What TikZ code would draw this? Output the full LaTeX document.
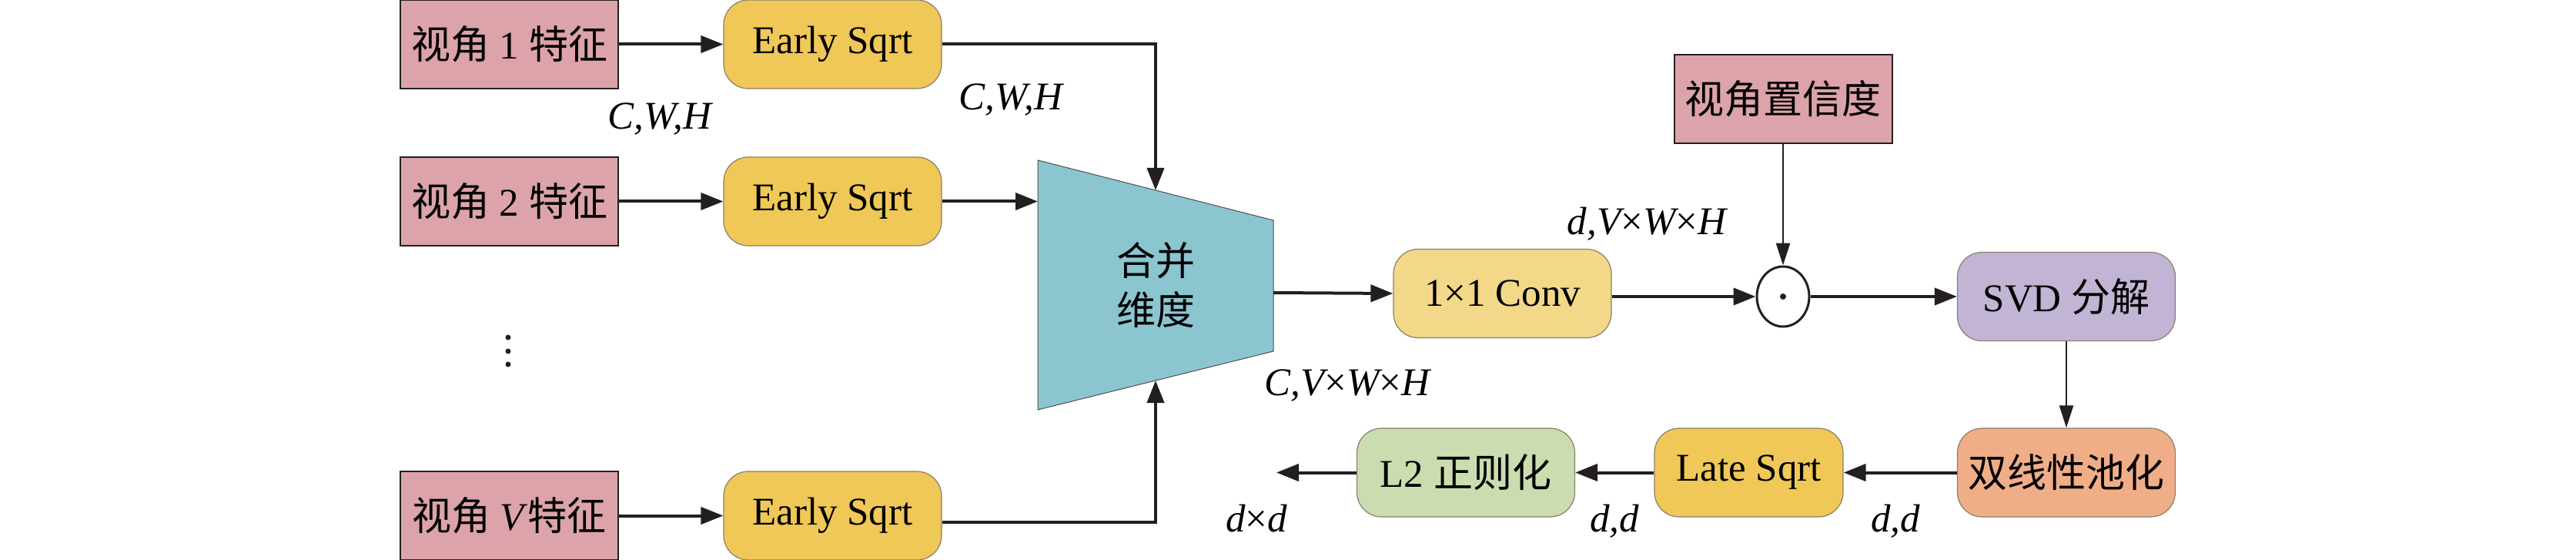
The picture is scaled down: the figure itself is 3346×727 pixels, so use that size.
\documentclass[tikz,border=0pt]{standalone}
\usepackage{fontspec}
\setmainfont{Liberation Serif}
\newfontfamily\cjk{Noto Sans CJK SC}
\usetikzlibrary{arrows.meta,shapes.geometric}
\definecolor{pinkc}{HTML}{DCA4AA}
\definecolor{yelc}{HTML}{F0C858}
\definecolor{convc}{HTML}{F2D888}
\definecolor{tealc}{HTML}{8BC6D0}
\definecolor{purc}{HTML}{C2B4D4}
\definecolor{orac}{HTML}{F0AE88}
\definecolor{grec}{HTML}{CBDDB0}
\definecolor{edgec}{HTML}{8A7E6A}
\definecolor{linec}{HTML}{231F20}
\begin{document}
\begin{tikzpicture}[x=1pt,y=-1pt,font=\fontsize{51}{64}\selectfont,
  feat/.style={draw=linec,line width=2pt,fill=pinkc,minimum width=283pt,minimum height=115pt,inner sep=0pt},
  proc/.style={draw=edgec,line width=1.2pt,rounded corners=32pt,minimum width=283pt,minimum height=115pt,inner sep=0pt},
  arr/.style={draw=linec,line width=4pt,-{Triangle[length=29pt,width=22pt]}},
  thinarr/.style={draw=linec,line width=2.5pt,-{Triangle[length=29pt,width=18pt]}},
  lab/.style={anchor=base,inner sep=0pt,font=\fontsize{51}{64}\selectfont\itshape}]
\useasboundingbox (0,0) rectangle (3346,727);
% left column
\node[feat] (f1) at (661.5,57.5) {{\cjk 视角} 1 {\cjk 特征}};
\node[feat] (f2) at (661.5,261.5) {{\cjk 视角} 2 {\cjk 特征}};
\node[feat] (fV) at (661.5,669.5) {{\cjk 视角} \textit{V}{\cjk 特征}};
\node[proc,fill=yelc] (e1) at (1081.5,57.5) {Early Sqrt};
\node[proc,fill=yelc] (e2) at (1081.5,261.5) {Early Sqrt};
\node[proc,fill=yelc] (eV) at (1081.5,669.5) {Early Sqrt};
\fill[linec] (660,438) circle (3.5) (660,456) circle (3.5) (660,473) circle (3.5);
% merge trapezoid
\draw[draw=linec!80,line width=1pt,fill=tealc] (1348,208) -- (1654,286) -- (1654,456) -- (1348,532) -- cycle;
\node[align=center,inner sep=0pt] (merge) at (1501,370) {\cjk 合并\\\cjk 维度};
\coordinate (mt) at (1501,247);
\coordinate (mb) at (1501,494);
\coordinate (ml) at (1348,261.5);
\coordinate (mr) at (1654,380);
% right part
\node[proc,fill=convc] (conv) at (1951.5,381) {1×1 Conv};
\node[ellipse,draw=linec,line width=3pt,minimum width=68pt,minimum height=78pt,inner sep=0pt] (odot) at (2316,385) {};
\fill[linec] (odot.center) circle (4);
\node[feat] (conf) at (2316,128.5) {\cjk 视角置信度};
\node[proc,fill=purc] (svd) at (2684,385) {SVD {\cjk 分解}};
\node[proc,fill=orac] (bil) at (2684,613.5) {\cjk 双线性池化};
\node[proc,fill=yelc,minimum width=245pt] (late) at (2271.5,613.5) {Late Sqrt};
\node[proc,fill=grec] (l2) at (1904,613.5) {L2 {\cjk 正则化}};
\coordinate (out) at (1658,613.5);
% connectors
\draw[arr] (f1.east) -- (e1.west);
\draw[arr] (f2.east) -- (e2.west);
\draw[arr] (fV.east) -- (eV.west);
\draw[arr] (e1.east) -| (mt);
\draw[arr] (e2.east) -- (ml);
\draw[arr] ([yshift=-8pt]eV.east) -| (mb);
\draw[arr] (mr) -- (conv.west);
\draw[arr] (conv.east |- odot.west) -- (odot.west);
\draw[thinarr] (conf.south) -- (odot.north);
\draw[arr] (odot.east) -- (svd.west);
\draw[thinarr] (svd.south) -- (bil.north);
\draw[arr] (bil.west) -- (late.east);
\draw[arr] (late.west) -- (l2.east);
\draw[arr] (l2.west) -- (out);
% labels
\node[lab] (l1) at (857,168) {C,W,H};
\node[lab] (l2lab) at (1313,143) {C,W,H};
\node[lab] (l3) at (1750,513) {C,V\upshape×\itshape W\upshape×\itshape H};
\node[lab] (l4) at (2139,305) {d,V\upshape×\itshape W\upshape×\itshape H};
\node[lab] (l5) at (1632,690) {d\upshape×\itshape d};
\node[lab] (l6) at (2097,690) {d,d};
\node[lab] (l7) at (2462,690) {d,d};
\end{tikzpicture}
\end{document}
